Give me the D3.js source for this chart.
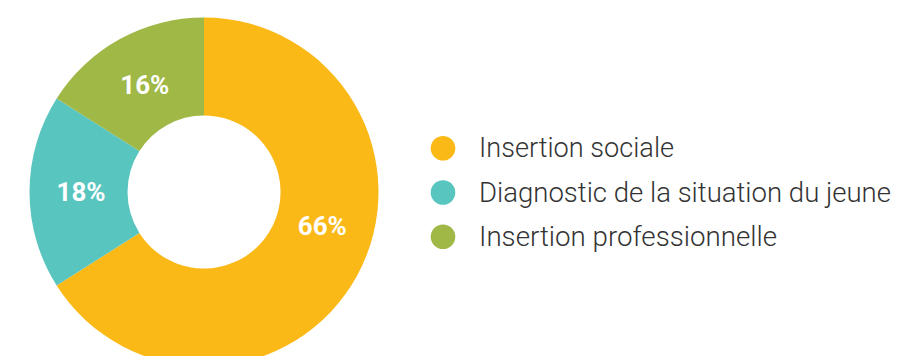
<!DOCTYPE html>
<html><head><meta charset="utf-8">
<script src="https://cdn.jsdelivr.net/npm/d3@7"></script>
<style>html,body{margin:0;padding:0;background:#fff;overflow:hidden}</style>
</head><body><svg id="chart" width="899" height="356"></svg>
<script>
const categories = ["Insertion sociale", "Diagnostic de la situation du jeune", "Insertion professionnelle"];
const values = [66, 18, 16];
const valueLabels = ["66%", "18%", "16%"];
const colors = ["#FBB918", "#59C5BF", "#9FB846"];

const svg = d3.select("#chart");
const cx = 204, cy = 192, outerR = 174.5, innerR = 76.5;
const g = svg.append("g").attr("transform", `translate(${cx},${cy})`);

const pie = d3.pie().sort(null).value(d => d)(values);
const arc = d3.arc().innerRadius(innerR).outerRadius(outerR);

g.selectAll("path.slice").data(pie).join("path")
  .attr("class", "slice")
  .attr("d", arc)
  .attr("fill", (d, i) => colors[i]);

const labelR = 123;
const angleShift = [-0.225, 0, 0];
g.selectAll("text.val").data(pie).join("text")
  .attr("class", "val")
  .attr("x", (d, i) => { const a = (d.startAngle + d.endAngle) / 2 + angleShift[i]; return Math.sin(a) * labelR; })
  .attr("y", (d, i) => { const a = (d.startAngle + d.endAngle) / 2 + angleShift[i]; return -Math.cos(a) * labelR; })
  .attr("dy", "0.36em")
  .attr("text-anchor", "middle")
  .attr("fill", "#fff")
  .attr("font-family", "Roboto, 'Open Sans', sans-serif")
  .attr("font-weight", 700)
  .attr("font-size", 26)
  .text((d, i) => valueLabels[i]);

// Legend
const ly = d3.scalePoint().domain(categories).range([148.3, 236.7]);
const leg = svg.append("g");
const items = leg.selectAll("g").data(categories).join("g")
  .attr("transform", d => `translate(443,${ly(d)})`);
items.append("circle").attr("r", 12.3).attr("fill", (d, i) => colors[i]);
const targetW = {"Insertion sociale":195, "Diagnostic de la situation du jeune":412, "Insertion professionnelle":298};
items.append("text")
  .attr("x", 36).attr("y", 9)
  .attr("fill", "#333")
  .attr("font-family", "Roboto, 'Open Sans', sans-serif")
  .attr("font-weight", 300)
  .attr("font-size", 28)
  .text(d => d)
  .each(function(d) {
    const w = this.getComputedTextLength();
    const t = targetW[d];
    if (w > t) d3.select(this).attr("textLength", t).attr("lengthAdjust", "spacingAndGlyphs");
  });
</script>
</body></html>
